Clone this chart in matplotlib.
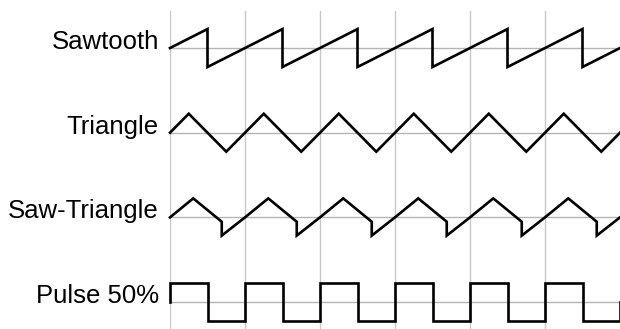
#!/usr/bin/env python3

import numpy as np
import matplotlib
matplotlib.use("Agg")
import matplotlib.pyplot as plt

# Waveform names, top to bottom
names = ["Sawtooth", "Triangle", "Saw-Triangle", "Pulse 50%"]

# One period of each waveform: phase (0..1) and normalized level
saw_phase = [0.0, 0.5, 0.5, 1.0]
saw_level = [0.0, 1.0, -1.0, 0.0]

tri_phase = [0.0, 0.25, 0.75, 1.0]
tri_level = [0.0, 1.0, -1.0, 0.0]

sawtri_phase = [0.0, 0.31, 0.69, 0.69, 1.0]
sawtri_level = [0.0, 1.0, -0.23, -0.96, 0.0]

pulse_phase = [0.0, 0.0, 0.5, 0.5, 1.0]
pulse_level = [0.0, 1.0, 1.0, -1.0, -1.0]

n_periods = 6


def repeat(phase, level, n):
    xs, ys = [], []
    for k in range(n):
        xs += [k + p for p in phase]
        ys += list(level)
    return np.array(xs), np.array(ys)


def main():
    W, H = 620, 329
    fig = plt.figure(figsize=(W / 100, H / 100), dpi=100)
    ax = fig.add_axes([170 / W, 0, 450 / W, (H - 11) / H])

    spacing = 4.46
    waves = [(saw_phase, saw_level), (tri_phase, tri_level),
             (sawtri_phase, sawtri_level), (pulse_phase, pulse_level)]

    # vertical grid lines
    for k in range(n_periods):
        ax.axvline(k, color="#c8c8c8", lw=1.0, zorder=1)

    for i, (name, (ph, lv)) in enumerate(zip(names, waves)):
        y0 = -i * spacing
        x, y = repeat(ph, lv, n_periods)
        if name.startswith("Pulse"):
            x = np.append(x, n_periods)
            y = np.append(y, 0.0)
        ax.plot([0, n_periods], [y0, y0], color="#b4b4b4", lw=1.0, zorder=1)
        ax.plot(x, y + y0, color="black", lw=1.9, zorder=3, clip_on=False,
                solid_joinstyle="miter")
        ax.text(-0.147, y0 - 0.05, name, ha="right", va="baseline",
                fontsize=18.5, family="Liberation Sans")

    ax.set_xlim(0, n_periods)
    ax.set_ylim(-3 * spacing - 1.42, 1.95)
    ax.axis("off")

    fig.savefig("out.png", dpi=100)


if __name__ == "__main__":
    main()
